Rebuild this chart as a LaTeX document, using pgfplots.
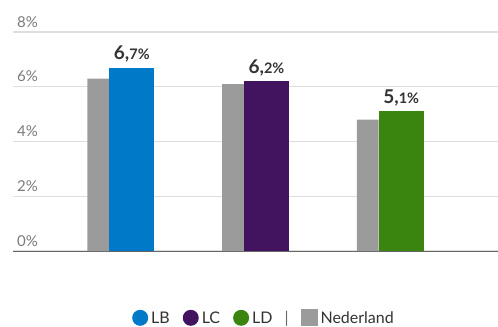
\documentclass[border=0pt]{standalone}
\usepackage{pgfplots}
\pgfplotsset{compat=1.18}
\usepackage{fontspec}
\setmainfont{Lato}
\definecolor{lbblue}{HTML}{0079C8}
\definecolor{lcpurple}{HTML}{42145F}
\definecolor{ldgreen}{HTML}{3A8410}
\definecolor{nlgrey}{HTML}{9B9B9B}
\definecolor{gridgrey}{HTML}{DEDEDE}
\definecolor{ticktext}{HTML}{7A7A7A}
\definecolor{labtext}{HTML}{333333}
\newcommand\vl[2]{{\fontsize{19bp}{19bp}\selectfont\bfseries #1,}{\fontsize{14.5bp}{14.5bp}\selectfont\bfseries #2\%}}
\newcommand\legcirc[1]{\tikz[baseline={(0,-0.37em)}]\fill[#1] (0,0) circle (8bp);}
\newcommand\legsq[1]{\tikz[baseline={(0,-0.37em)}]\fill[#1] (-8.5bp,-8.5bp) rectangle (8.5bp,8.5bp);}
\begin{document}
\begin{tikzpicture}
\begin{axis}[
  scale only axis,
  width=485bp, height=219bp,
  xmin=-0.8, xmax=2.8,
  ymin=0, ymax=8,
  ytick={0,2,4,6,8},
  xtick=\empty,
  axis x line*=bottom,
  axis y line*=left,
  y axis line style={draw=none},
  x axis line style={draw=black!60, line width=1pt, -},
  ymajorgrids,
  major grid style={draw=gridgrey, line width=1.2pt},
  /pgf/number format/assume math mode=true,
  yticklabel={\pgfmathprintnumber{\tick}\%},
  yticklabel style={anchor=base west, inner sep=0pt, xshift=4bp, yshift=5bp, text=ticktext, font=\fontsize{15bp}{15bp}\selectfont},
  major tick length=0pt,
  ybar, bar shift=0pt,
  clip=false,
  every node near coord/.append style={text=labtext, anchor=south, yshift=2bp},
]
\addplot[fill=nlgrey, draw=none, bar width=0.163] coordinates {(-0.1667,6.3) (0.8333,6.1) (1.8333,4.8)};
\addplot[fill=lbblue, draw=none, bar width=0.333, nodes near coords={\vl{6}{7}}] coordinates {(0.0815,6.7)};
\addplot[fill=lcpurple, draw=none, bar width=0.333, nodes near coords={\vl{6}{2}}] coordinates {(1.0815,6.2)};
\addplot[fill=ldgreen, draw=none, bar width=0.333, nodes near coords={\vl{5}{1}}] coordinates {(2.0815,5.1)};
\node[text=labtext, font=\fontsize{16bp}{16bp}\selectfont, inner sep=0pt] at (axis cs:1.0556,-2.445)
  {\legcirc{lbblue}\hspace{3bp}LB\hspace{13bp}\legcirc{lcpurple}\hspace{3bp}LC\hspace{13bp}\legcirc{ldgreen}\hspace{3bp}LD\hspace{12bp}{\color{black!60}|}\hspace{12bp}\legsq{nlgrey}\hspace{3bp}Nederland};
\end{axis}
\pgfresetboundingbox
\path (current axis.south west) ++(-13bp,-76bp) rectangle ++(498bp,327bp);
\end{tikzpicture}
\end{document}
